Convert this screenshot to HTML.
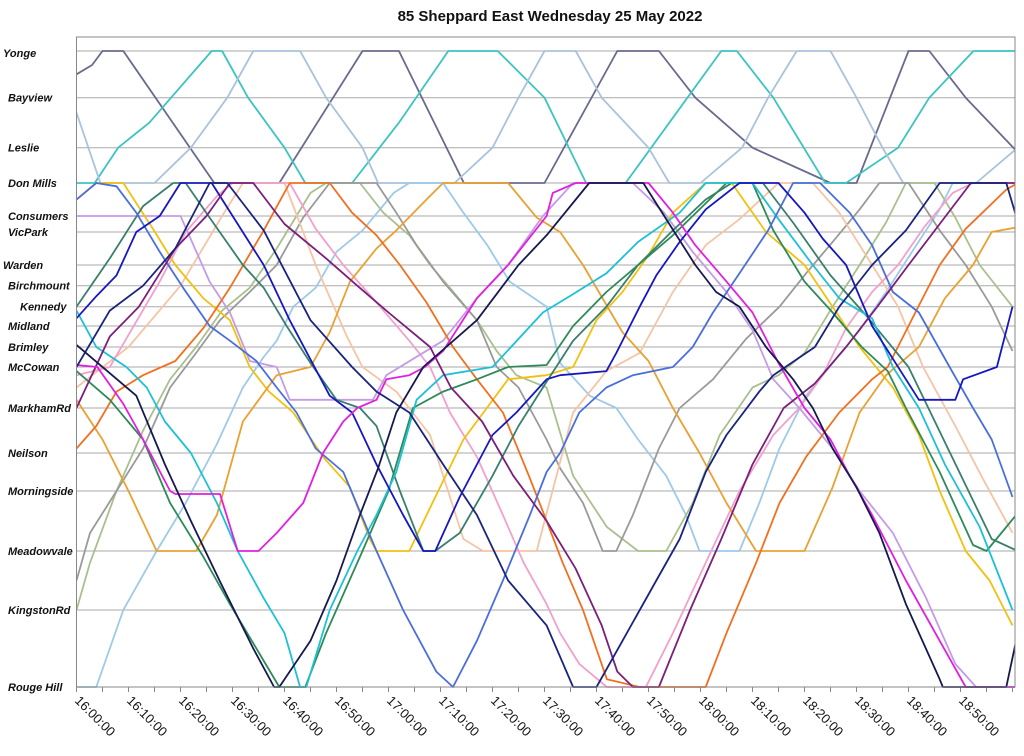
<!DOCTYPE html>
<html><head><meta charset="utf-8"><style>
html,body{margin:0;padding:0;background:#fff;}
svg{display:block;font-family:"Liberation Sans",Arial,sans-serif;}
</style></head><body>
<svg id="chart" width="1024" height="756" viewBox="0 0 1024 756" xmlns="http://www.w3.org/2000/svg">
<text x="550" y="21" text-anchor="middle" font-size="15" font-weight="bold" fill="#111">85 Sheppard East Wednesday 25 May 2022</text>
<g id="grid"></g>
<g id="ylabels"></g>
<g id="xlabels"></g>
<defs><clipPath id="pc"><rect x="76.5" y="37" width="938.5" height="651"/></clipPath></defs>
<g id="series" clip-path="url(#pc)"></g>
<rect x="76.5" y="37" width="938.5" height="650" fill="none" stroke="#888" stroke-width="1"/>
</svg>
<script>
const stopNames = ["Yonge","Bayview","Leslie","Don Mills","Consumers","VicPark","Warden","Birchmount","Kennedy","Midland","Brimley","McCowan","MarkhamRd","Neilson","Morningside","Meadowvale","KingstonRd","Rouge Hill"];
const tickLabels = ["16:00:00","16:10:00","16:20:00","16:30:00","16:40:00","16:50:00","17:00:00","17:10:00","17:20:00","17:30:00","17:40:00","17:50:00","18:00:00","18:10:00","18:20:00","18:30:00","18:40:00","18:50:00"];
const tickMinutes = [0,10,20,30,40,50,60,70,80,90,100,110,120,130,140,150,160,170];

const busSlate = [[0,0.5],[3,0.3],[5,0],[9,0],[26.5,3],[39,3],[55,0],[62,0],[74.5,3],[90,3],[104,0],[112,0],[119,1],[130,2],[145,3],[150,3],[160,0],[164,0],[171,1],[180.8,2.1]];
const busTeal = [[0,3],[3.5,3],[8,2],[14,1.5],[26,0],[28,0],[33,1],[40,2],[44,3],[53,3],[62,1.5],[71.5,0],[81,0],[90,1],[98,3],[105.6,3],[114,1.5],[124,0],[127,0],[134,1],[144,3],[148,3],[158,2],[164,1],[172.5,0],[181,0]];
const busSky = [[0,1.3],[4.6,3],[15,3],[22,2],[29,1],[34,0],[43,0],[48,1],[55,2],[58,3],[72.7,3],[80,2],[85,1],[90,0],[96,0],[101,1],[110,2],[114,3],[120,3],[128,2],[133,1],[138.5,0],[145,0],[150,1],[155,2],[159,3],[173,3],[181,2]];
const busNavy1 = [[0,9.9],[11.5,11.7],[17,13.3],[22,14.5],[27.5,15.5],[34,16.5],[38,17],[39,17],[45,16.4],[50,15.5],[54.5,14.4],[58,13.4],[61.5,12.1],[66.7,11],[77,8.7],[85,6],[90.4,5.1],[98.6,3],[109,3],[119,6],[123,7.3],[127.5,8],[132.6,10],[137.8,11.3],[141.6,12],[145.4,12.9],[150,13.9],[154.4,14.7],[159.5,15.9],[166,16.9],[166.6,17],[178.8,17],[180.7,16.4]];
const busNavy2 = [[0,11],[6.4,8.2],[12.8,7],[19,5.5],[25.6,3],[29,3],[36,4.9],[45,8.7],[53,11],[57.7,11.6],[64,12.1],[70.5,13.3],[77,14.4],[83,15.5],[90.4,16.2],[95.5,17],[100,17],[105,16.4],[111.5,15.5],[116,14.8],[121,13.5],[125,12.6],[131.3,11.6],[134,11.2],[142,10],[146.7,8],[153,6],[159.5,4.9],[166,3],[178.8,3],[180.7,4]];
const busCyan = [[0,8.2],[3.8,10],[9.6,11],[13.5,11.5],[17,12.3],[22,13],[27,14.2],[31,15],[36,15.8],[40,16.3],[43,17],[44.2,17],[48.7,16],[54,15],[57.7,14.4],[61.5,13.5],[65.4,11.8],[70.5,11.2],[80,11],[89.7,8.3],[95.5,7.4],[101.9,6.4],[108,5.3],[116,3.9],[121,3],[130,3],[135,4.2],[141.6,6],[146.7,7.6],[153,8.6],[157,11],[162,12],[167,13.3],[173.7,14.6],[180,16]];
const busGreen1 = [[0,11.1],[6.4,11.8],[12.8,12.7],[18,14.2],[24.4,15.1],[29.5,15.9],[34.6,16.5],[39,17],[44,17],[48,16.3],[55,15],[60,14],[64.7,12],[70.5,11.6],[77,11.3],[83,11],[90.4,10.9],[95.5,9],[101.9,7.3],[108,6],[114.7,5.1],[119.8,3.8],[125,3],[130,3],[134,4.9],[140,6.8],[145.4,8.3],[151,10],[156,11.1],[159.5,12],[166,13.5],[172.4,14.9],[175,15],[178.8,14.6],[180.7,14.4]];
const busGreen2 = [[0,8],[6.4,5.8],[12.8,3.7],[18.6,3],[21,3],[25.6,4.1],[32,6],[36,7.1],[40.4,9],[45,10.8],[50,11.8],[54.5,12],[57.7,12.4],[62.2,14],[66.7,15],[69,15],[73.7,14.7],[80,13.6],[85,12.4],[89.7,11.5],[95.5,9.7],[101.9,8],[108,6],[114.7,4.9],[121,3.5],[126,3],[132,3],[138,4.5],[145,6.5],[152,8.5],[160,11],[168,13],[176,14.8],[181,15]];
const busMagenta = [[0,10.9],[4,11],[9,11.9],[12.8,12.7],[18,14],[19,14.05],[27.6,14.05],[31,15],[35,15],[38.5,14.7],[43.6,14.2],[47.4,13],[51.3,12.3],[54,12],[57.7,11.8],[59.6,11.3],[64,11.2],[67,11],[70.5,10.2],[77,7.6],[83,6],[90.4,4],[91.6,3.3],[96,3],[110,3],[114.7,3.9],[119,5.4],[125,6.8],[130,8.3],[135,10.8],[140,12],[145,12.7],[148.7,13.6],[153,14.4],[159.5,15.5],[166,16.4],[171,17],[181,17]];
const busOrange1 = [[0,12.9],[3.8,12.4],[7.7,11.6],[12.8,11.2],[19,10.7],[24.4,9.1],[29.5,7.1],[36,4.9],[41,3],[48.7,3],[53,3.9],[57.7,5.1],[62.2,6],[67.3,7.8],[72.4,10],[77,11.3],[82,12.1],[87,13.6],[90.4,14.5],[93.5,15.2],[97.4,16],[102,16.9],[108.3,17],[121,17],[125,16.3],[130.7,15.2],[135.2,14.2],[140.3,13.1],[146.7,12.1],[153,11.3],[156,11],[161.5,8.2],[166,6],[171,4.8],[178.8,3.2],[181,3]];
const busAmber = [[0,11.8],[5,12.7],[10,14],[15.4,15],[23,15],[27,14.4],[32,12.3],[38.5,11.2],[45,11],[48.7,9.3],[52.6,6.8],[57.7,5.5],[61.5,4.9],[67.3,3.5],[70.5,3],[83,3],[88.5,4.1],[93,5],[97.4,6],[105,9.3],[110,10.7],[114.7,12],[119.8,13],[125,14.2],[130.7,15],[140,15],[145.4,13.9],[150.6,12.1],[155.7,11.2],[162,10],[167,7.6],[172.4,6],[176,5],[181,4.7]];
const busGold = [[0,3.5],[3.8,3],[9,3],[14.7,4.8],[19,6],[24.4,7.6],[29.5,8.7],[33.3,11],[37,11.6],[41.7,12.1],[47.4,13.1],[52.6,13.9],[56.4,14.8],[57.7,15],[64,15],[69,14.1],[74.4,12.7],[79.5,11.9],[83,11.3],[90.4,11.2],[95.5,11],[100,8.7],[105,7.3],[110,5.7],[114.7,3.9],[121,3],[126,3],[132.6,5],[140,6],[145.4,8],[150.6,10],[157,11.5],[162,12.6],[166,14],[171,15],[175.6,15.5],[180,16.2]];
const busGrey = [[0,15.5],[2.6,14.7],[7.7,14],[12.8,12.9],[18,11.5],[23,10.3],[27.6,8.7],[33.3,7.3],[38.5,6],[43.6,4.1],[48.7,3],[57.7,3],[61.5,3.9],[65.4,5.4],[70.5,6.8],[77,8.7],[80.8,11],[85,11.5],[90.4,12.7],[93,13.4],[97.4,14.2],[101.2,15],[103.8,15],[107,14.4],[112,12.9],[116,12],[122.4,11.3],[128.8,9.6],[135.2,8],[140.3,6.4],[145.4,5.3],[150.6,3.8],[154.4,3],[160,3],[166,4.9],[171,6],[176,8],[180,10.2]];
const busLightBlue = [[0,17],[3.8,17],[9,16],[15.4,15],[21,14.2],[27,12.8],[32,11.5],[36,10.5],[38.5,9.7],[41.7,8],[46,7.1],[50,5.6],[55,4.9],[61,3.3],[64,3],[70.5,3],[74.4,3.9],[79,5.4],[83.3,6.8],[90.4,8],[93,10.8],[98.7,11.7],[103.8,12],[108,12.7],[113.4,13.6],[117.2,14.4],[119.8,15],[127.5,15],[131.3,14.2],[135.2,12.9],[140.3,11.7],[145.4,10.8],[150.6,9.2],[155.7,7.3],[161.5,5.4],[166,3.8],[168.5,3],[181,3]];
const busPink = [[0,11.2],[6.4,11],[11,9],[16,6.8],[21,5],[27,3.4],[30,3],[41,3],[46,4.8],[51.3,6],[57.7,7.8],[64,9.7],[68,11],[71.8,12.1],[77,13.1],[82,14.4],[86,15.2],[90.4,15.9],[93,16.3],[96.7,16.7],[102,17],[109.5,17],[114.7,16.3],[121,15.2],[127.5,14],[134,12.6],[139,12],[143.5,11.2],[148,9.1],[153,7.3],[158,6],[163,4.7],[168.5,3.3],[172.4,3],[181,3]];
const busViolet = [[0,4],[20,4],[25.6,6.8],[29.5,8.3],[33.3,10.7],[38.5,11],[41,11.8],[57,11.8],[59.6,11.2],[70.5,9.7],[77,7.6],[83,6],[89.7,4],[95.5,3],[107,3],[113,3.9],[118.5,5.6],[125,7.3],[130,9.2],[134,11.3],[139,12],[145.4,12.9],[150.6,14],[157,14.7],[163.4,15.8],[169,16.7],[173,17],[181,17]];
const busBlue = [[0,3.5],[3.8,3],[7.7,3.1],[11.5,3.9],[16,5.6],[20.5,7.1],[25.6,9],[29.5,9.7],[34.6,10.7],[38.5,11.5],[42.3,12.1],[46,12.9],[51.3,13.5],[57.7,15],[62.8,16],[69.2,16.8],[72.4,17],[77,16.4],[82,15.5],[87.2,14.4],[90.4,13.5],[93,13],[96.7,12.1],[101.9,11.5],[107,11.2],[114.7,11],[118.5,10],[122.4,8.3],[127.5,6.4],[133,4.9],[137.8,3],[143,3],[148.7,3.9],[153,5.4],[157,7.3],[162,8.3],[167.9,11],[172.4,12],[176,12.7],[180,14.1]];
const busDeepBlue = [[0,8.6],[3.8,7.5],[7.7,6.5],[11.5,5],[16,4],[20,3],[26,3],[36,6],[41,8.7],[48.7,11.7],[53,12.1],[57.7,13.3],[62.8,14.4],[66.7,15],[69,15],[73.7,14.1],[80,12.6],[84.6,12.1],[90.4,11.3],[93,11.2],[101.9,11.1],[103.8,10.3],[108.3,8],[111.5,6.5],[116,5.3],[121,3.8],[127.5,3],[135,3],[140,3.9],[143.5,5.2],[148,6],[153,9],[159.5,11.3],[162,11.8],[169,11.8],[170.5,11.3],[177,11],[180,8]];
const busSage = [[0,16],[2.6,15.2],[7.7,14],[12.8,12.5],[18,11.3],[23,10],[28,8.2],[33.3,7.1],[38.5,5.5],[45,3.3],[48,3],[54.5,3],[59,3.9],[64,5.1],[68,6],[71.8,7.1],[77,8.7],[80.8,10.2],[84.6,11.2],[90.4,11.5],[95.5,13.6],[102,14.6],[108,15],[113.4,15],[118.5,14.2],[123.7,12.6],[130,11.5],[135,11.2],[140,10.3],[145.4,8],[150.6,6],[155.7,4.4],[159.5,3],[165,3],[169,4.1],[173.7,6],[180,8]];
const busPeach = [[0,11.5],[10,10],[20,7],[28,4],[32,3],[40,3],[46,6],[52,9.5],[55,11],[61.5,11.6],[68,12.6],[74.4,14.8],[78.2,15],[88.5,15],[95.5,12.1],[101.9,11.1],[108.3,10.3],[114.7,7.3],[121,5.4],[127.5,4.2],[135,3],[141.6,3],[146.7,3.9],[153,6],[158,8],[162.8,11],[169,12.4],[174,13.6],[180,14.7]];
const busPlum = [[0,12],[6.4,9.5],[12,8],[19,5.5],[25,4],[29.5,3],[34,3],[40,4.5],[48,5.8],[54,7],[60,8.3],[68,10],[72,11.5],[78,12.3],[84,13.6],[90.4,14.5],[96,15.3],[101,16.2],[104,16.8],[107,17],[112,17],[118,16],[124,14.8],[130,13.3],[136,12],[142,11.4],[148,10],[154,8],[160,6],[166,4.5],[172,3],[181,3]];

const seriesList = [
 ["slate-bus",busSlate,"#6a6a8e"],["teal-bus",busTeal,"#3cc4c0"],["sky-bus",busSky,"#a9c3dd"],
 ["light-blue-bus",busLightBlue,"#9ecae9"],["sage-bus",busSage,"#a9c08e"],["grey-bus",busGrey,"#9a9a9a"],
 ["peach-bus",busPeach,"#f5c4a4"],["pink-bus",busPink,"#f2a0cc"],["violet-bus",busViolet,"#c49ce6"],
 ["gold-bus",busGold,"#f2c010"],["amber-bus",busAmber,"#eba032"],["orange-bus",busOrange1,"#f07020"],
 ["green2-bus",busGreen2,"#3a7f6e"],["green1-bus",busGreen1,"#2e8b57"],["cyan-bus",busCyan,"#1ec0d8"],
 ["blue-bus",busBlue,"#4a6fdc"],["deep-blue-bus",busDeepBlue,"#1717c0"],["plum-bus",busPlum,"#7b1f7b"],
 ["magenta-bus",busMagenta,"#e020e0"],["navy2-bus",busNavy2,"#1a237e"],["navy1-bus",busNavy1,"#15194f"]
];

const X0=76.5, PXPERMIN=5.2;
const stopPix=[51,97.7,147.7,183,216,232,265,285.7,306.7,326,347,367,408,453,491,551,610,687];
function xScale(m){return X0+m*PXPERMIN;}
function yScale(s){const i=Math.max(0,Math.min(16,Math.floor(s)));const f=s-i;return stopPix[i]+(stopPix[i+1]-stopPix[i])*f;}

const NS="http://www.w3.org/2000/svg";
const grid=document.getElementById('grid'), yl=document.getElementById('ylabels'), xl=document.getElementById('xlabels'), sg=document.getElementById('series');
const labelX={"Yonge":3,"Warden":3,"Kennedy":20};
stopNames.forEach((n,i)=>{
  const y=yScale(i);
  const ln=document.createElementNS(NS,'line');
  
  
  ln.setAttribute('x1',X0);ln.setAttribute('x2',1015);ln.setAttribute('y1',y);ln.setAttribute('y2',y);
  ln.setAttribute('stroke','#aaa');ln.setAttribute('stroke-width','1');
  grid.appendChild(ln);
  const t=document.createElementNS(NS,'text');
  
  
  t.setAttribute('x',labelX[n]!==undefined?labelX[n]:8);t.setAttribute('y',y+(i==0?6:4));
  t.setAttribute('font-size','11');t.setAttribute('font-weight','bold');t.setAttribute('font-style','italic');t.setAttribute('fill','#111');
  t.textContent=n;yl.appendChild(t);
});
for(let m=0;m<=180;m+=5){
  const x=xScale(m);
  const tk=document.createElementNS(NS,'line');
  
  
  tk.setAttribute('x1',x);tk.setAttribute('x2',x);tk.setAttribute('y1',687);tk.setAttribute('y2',692);
  tk.setAttribute('stroke','#888');grid.appendChild(tk);
}
tickLabels.forEach((lab,i)=>{
  const x=xScale(tickMinutes[i])+4, y=704;
  const t=document.createElementNS(NS,'text');
  
  
  t.setAttribute('x',x);t.setAttribute('y',y);t.setAttribute('font-size','13');t.setAttribute('fill','#111');
  t.setAttribute('transform','rotate(45 '+x+' '+(y-9)+')');
  t.textContent=lab;xl.appendChild(t);
});
seriesList.forEach(([name,pts,col])=>{
  const p=document.createElementNS(NS,'polyline');
  
  
  p.setAttribute('points',pts.map(d=>xScale(d[0]).toFixed(1)+','+yScale(d[1]).toFixed(1)).join(' '));
  p.setAttribute('fill','none');p.setAttribute('stroke',col);p.setAttribute('stroke-width','1.8');p.setAttribute('stroke-linejoin','round');
  sg.appendChild(p);
});
</script>
</body></html>
